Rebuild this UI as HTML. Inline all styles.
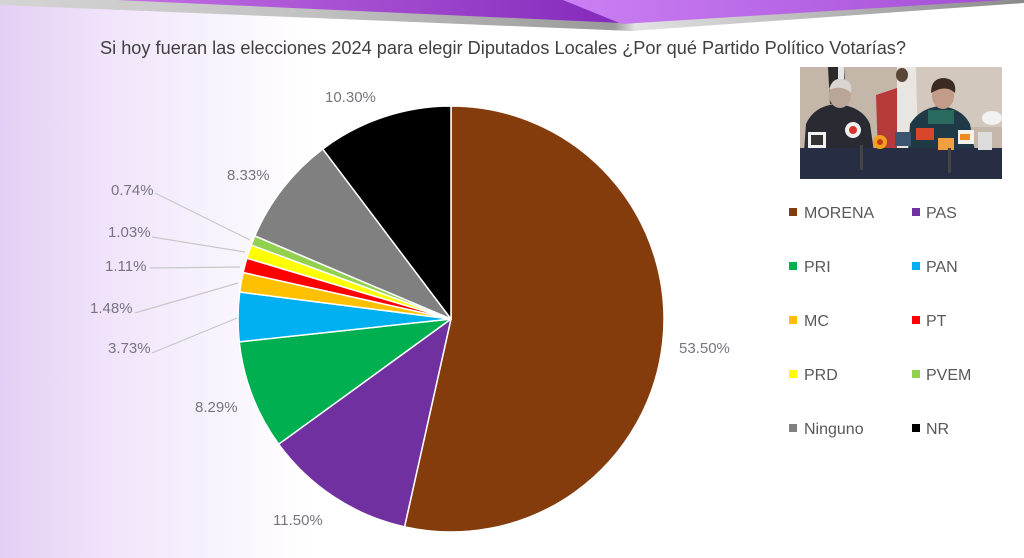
<!DOCTYPE html>
<html>
<head>
<meta charset="utf-8">
<style>
  html,body{margin:0;padding:0;background:#fff;}
  svg{display:block;}
  text{font-family:"Liberation Sans",sans-serif;}
</style>
</head>
<body>
<svg width="1024" height="558" viewBox="0 0 1024 558" xmlns="http://www.w3.org/2000/svg">
  <defs>
    <linearGradient id="bgL" x1="0" y1="0" x2="310" y2="0" gradientUnits="userSpaceOnUse">
      <stop offset="0" stop-color="#E4CFF4"/>
      <stop offset="0.35" stop-color="#F0E4FA"/>
      <stop offset="1" stop-color="#FFFFFF"/>
    </linearGradient>
    <linearGradient id="grayG" x1="0" y1="0" x2="1024" y2="0" gradientUnits="userSpaceOnUse">
      <stop offset="0" stop-color="#d4d4d4"/>
      <stop offset="0.3" stop-color="#c2c2c2"/>
      <stop offset="0.6" stop-color="#9a9a9a"/>
      <stop offset="0.62" stop-color="#e2e2e2"/>
      <stop offset="1" stop-color="#8a8a8a"/>
    </linearGradient>
    <linearGradient id="purA" x1="117" y1="0" x2="600" y2="0" gradientUnits="userSpaceOnUse">
      <stop offset="0" stop-color="#C470E4"/>
      <stop offset="1" stop-color="#862CBE"/>
    </linearGradient>
    <linearGradient id="purB" x1="563" y1="0" x2="1000" y2="0" gradientUnits="userSpaceOnUse">
      <stop offset="0" stop-color="#CC80F4"/>
      <stop offset="1" stop-color="#A34ED6"/>
    </linearGradient>
    <clipPath id="photoClip"><rect x="800" y="67" width="202" height="112"/></clipPath>
  </defs>

  <!-- background -->
  <rect x="0" y="0" width="1024" height="558" fill="#fff"/>
  <rect x="0" y="0" width="320" height="558" fill="url(#bgL)"/>

  <!-- top banner -->
  <polygon points="0,0 1024,0 1024,3 632,31 0,5" fill="url(#grayG)"/>
  <polygon points="117,0 563,0 622,23" fill="url(#purA)"/>
  <polygon points="563,0 1005,0 622,24" fill="url(#purB)"/>

  <!-- title -->
  <text x="100" y="54" font-size="18" fill="#404040" textLength="806" lengthAdjust="spacingAndGlyphs">Si hoy fueran las elecciones 2024 para elegir Diputados Locales ¿Por qué  Partido Político Votarías?</text>

  <!-- pie -->
  <g stroke="#ffffff" stroke-width="1.5" stroke-linejoin="round">
    <path d="M451,319 L451,106 A213,213 0 1 1 404.54,526.87 Z" fill="#843C0C"/>
    <path d="M451,319 L404.54,526.87 A213,213 0 0 1 278.68,444.20 Z" fill="#7030A0"/>
    <path d="M451,319 L278.68,444.20 A213,213 0 0 1 239.23,341.84 Z" fill="#00B050"/>
    <path d="M451,319 L239.23,341.84 A213,213 0 0 1 239.71,292.04 Z" fill="#00B0F0"/>
    <path d="M451,319 L239.71,292.04 A213,213 0 0 1 243.13,272.54 Z" fill="#FFC000"/>
    <path d="M451,319 L243.13,272.54 A213,213 0 0 1 246.87,258.16 Z" fill="#FF0000"/>
    <path d="M451,319 L246.87,258.16 A213,213 0 0 1 251.23,245.10 Z" fill="#FFFF00"/>
    <path d="M451,319 L251.23,245.10 A213,213 0 0 1 254.88,235.89 Z" fill="#92D050"/>
    <path d="M451,319 L254.88,235.89 A213,213 0 0 1 322.71,148.97 Z" fill="#808080"/>
    <path d="M451,319 L322.71,148.97 A213,213 0 0 1 451,106 Z" fill="#000000"/>
  </g>

  <!-- leader lines -->
  <g stroke="#c8c8c8" stroke-width="1.2" fill="none">
    <line x1="155" y1="193" x2="250" y2="240"/>
    <line x1="152" y1="237" x2="245" y2="252"/>
    <line x1="150" y1="268" x2="240" y2="267"/>
    <line x1="135" y1="313" x2="238" y2="283"/>
    <line x1="152" y1="353" x2="237" y2="318"/>
  </g>

  <!-- data labels -->
  <g font-size="15" fill="#787480">
    <text x="325" y="102">10.30%</text>
    <text x="227" y="180">8.33%</text>
    <text x="111" y="195">0.74%</text>
    <text x="108" y="237">1.03%</text>
    <text x="105" y="271">1.11%</text>
    <text x="90" y="313">1.48%</text>
    <text x="108" y="353">3.73%</text>
    <text x="195" y="412">8.29%</text>
    <text x="273" y="525">11.50%</text>
    <text x="679" y="353">53.50%</text>
  </g>

  <!-- legend -->
  <g font-size="16" fill="#595959">
    <rect x="789" y="208" width="8" height="8" fill="#843C0C"/><text x="804" y="218">MORENA</text>
    <rect x="912" y="208" width="8" height="8" fill="#7030A0"/><text x="926" y="218">PAS</text>
    <rect x="789" y="262" width="8" height="8" fill="#00B050"/><text x="804" y="272">PRI</text>
    <rect x="912" y="262" width="8" height="8" fill="#00B0F0"/><text x="926" y="272">PAN</text>
    <rect x="789" y="316" width="8" height="8" fill="#FFC000"/><text x="804" y="326">MC</text>
    <rect x="912" y="316" width="8" height="8" fill="#FF0000"/><text x="926" y="326">PT</text>
    <rect x="789" y="370" width="8" height="8" fill="#FFFF00"/><text x="804" y="380">PRD</text>
    <rect x="912" y="370" width="8" height="8" fill="#92D050"/><text x="926" y="380">PVEM</text>
    <rect x="789" y="424" width="8" height="8" fill="#808080"/><text x="804" y="434">Ninguno</text>
    <rect x="912" y="424" width="8" height="8" fill="#000000"/><text x="926" y="434">NR</text>
  </g>

  <!-- photo (impressionistic) -->
  <g clip-path="url(#photoClip)">
    <rect x="800" y="67" width="202" height="112" fill="#c4b6a9"/>
    <rect x="905" y="67" width="97" height="60" fill="#d2c8be"/>
    <!-- left dark flag -->
    <polygon points="828,67 844,67 846,102 830,104" fill="#2a2a2a"/>
    <rect x="838" y="67" width="6" height="30" fill="#e6e6e6"/>
    <!-- mexican flag -->
    <polygon points="876,95 897,88 897,155 878,158" fill="#b53a38"/>
    <polygon points="897,67 916,67 918,150 897,155" fill="#e9e5e1"/>
    <ellipse cx="902" cy="75" rx="6" ry="7" fill="#5a4636"/>
    <!-- left man -->
    <path d="M802,179 L806,124 Q814,106 836,104 Q862,106 870,124 L878,179 Z" fill="#2a2a33"/>
    <ellipse cx="840" cy="95" rx="11" ry="13" fill="#b9a698"/>
    <path d="M829,90 Q832,77 843,79 Q853,81 851,93 Q842,84 829,90 Z" fill="#d8d4d0"/>
    <!-- right man -->
    <path d="M906,179 L910,124 Q920,108 940,106 Q962,108 970,124 L980,179 Z" fill="#1f3a46"/>
    <rect x="928" y="110" width="26" height="14" fill="#2a6a5e"/>
    <ellipse cx="943" cy="96" rx="11" ry="13" fill="#c29c88"/>
    <path d="M931,93 Q931,78 944,78 Q957,79 955,93 Q946,84 931,93 Z" fill="#3a2a22"/>
    <!-- lower dark area -->
    <rect x="800" y="148" width="202" height="31" fill="#272e44"/>
    <!-- microphones -->
    <rect x="808" y="132" width="18" height="16" fill="#f2f2f2"/>
    <rect x="811" y="135" width="12" height="10" fill="#333"/>
    <circle cx="853" cy="130" r="8" fill="#f0f0f0"/>
    <circle cx="853" cy="130" r="4" fill="#d9342a"/>
    <circle cx="880" cy="142" r="7" fill="#f2a21a"/>
    <circle cx="880" cy="142" r="3" fill="#c43a20"/>
    <rect x="895" y="132" width="16" height="14" fill="#3c5470"/>
    <rect x="916" y="128" width="18" height="12" fill="#d9462a"/>
    <rect x="938" y="138" width="16" height="12" fill="#f0a040"/>
    <rect x="958" y="130" width="16" height="14" fill="#f4f0ea"/>
    <rect x="960" y="134" width="10" height="6" fill="#f08a20"/>
    <rect x="978" y="132" width="14" height="18" fill="#dcdcdc"/>
    <ellipse cx="992" cy="118" rx="10" ry="7" fill="#f2f2f2"/>
    <rect x="860" y="145" width="3" height="25" fill="#444"/>
    <rect x="948" y="148" width="3" height="25" fill="#444"/>
  </g>
</svg>
</body>
</html>
